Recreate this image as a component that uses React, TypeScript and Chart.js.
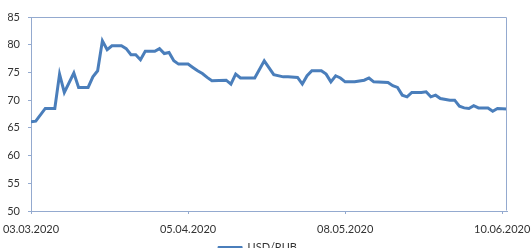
import React, { useEffect, useRef } from 'react';
import { Chart, registerables } from 'chart.js';

Chart.register(...registerables);

// Dates of the USD/RUB observations (DD.MM.YYYY)
const dates = [
  '03.03.2020', '04.03.2020', '06.03.2020', '08.03.2020', '09.03.2020', '10.03.2020',
  '12.03.2020', '13.03.2020', '15.03.2020', '16.03.2020', '17.03.2020', '18.03.2020',
  '19.03.2020', '20.03.2020', '22.03.2020', '23.03.2020', '24.03.2020', '25.03.2020',
  '26.03.2020', '27.03.2020', '29.03.2020', '30.03.2020', '31.03.2020', '01.04.2020',
  '02.04.2020', '03.04.2020', '05.04.2020', '06.04.2020', '07.04.2020', '08.04.2020',
  '09.04.2020', '10.04.2020', '13.04.2020', '14.04.2020', '15.04.2020', '16.04.2020',
  '19.04.2020', '21.04.2020', '23.04.2020', '25.04.2020', '26.04.2020', '28.04.2020',
  '29.04.2020', '30.04.2020', '01.05.2020', '03.05.2020', '04.05.2020', '05.05.2020',
  '06.05.2020', '07.05.2020', '08.05.2020', '10.05.2020', '12.05.2020', '13.05.2020',
  '14.05.2020', '17.05.2020', '18.05.2020', '19.05.2020', '20.05.2020', '21.05.2020',
  '22.05.2020', '24.05.2020', '25.05.2020', '26.05.2020', '27.05.2020', '28.05.2020',
  '30.05.2020', '31.05.2020', '01.06.2020', '02.06.2020', '03.06.2020', '04.06.2020',
  '05.06.2020', '07.06.2020', '08.06.2020', '09.06.2020', '11.06.2020',
];

// USD/RUB values
const usdRub = [
  66.1, 66.2, 68.5, 68.5, 74.7, 71.4,
  74.9, 72.3, 72.3, 74.2, 75.3, 80.7,
  79.1, 79.8, 79.8, 79.3, 78.2, 78.2,
  77.3, 78.8, 78.8, 79.3, 78.4, 78.6,
  77.1, 76.5, 76.5, 75.9, 75.3, 74.8,
  74.1, 73.5, 73.6, 72.9, 74.7, 74.0,
  74.0, 77.1, 74.6, 74.2, 74.2, 74.1,
  72.9, 74.4, 75.3, 75.3, 74.7, 73.3,
  74.4, 74.0, 73.3, 73.3, 73.6, 74.0,
  73.3, 73.2, 72.6, 72.3, 70.9, 70.6,
  71.4, 71.4, 71.5, 70.6, 70.9, 70.3,
  70.0, 70.0, 68.9, 68.6, 68.5, 69.0,
  68.6, 68.6, 68.0, 68.5, 68.4,
];

const seriesName = 'USD/RUB';
const xTickLabels = ['03.03.2020', '05.04.2020', '08.05.2020', '10.06.2020'];
const xAxisStart = '03.03.2020';
const xAxisEnd = '11.06.2020';
const yMin = 50;
const yMax = 85;
const yStep = 5;

const LINE_COLOR = '#4A7EBB';
const AXIS_COLOR = '#94AACF';
const TEXT_COLOR = '#333333';
const FONT = { family: 'Lato, "Liberation Sans", sans-serif', size: 11 };

function dayOf(s: string): number {
  const [d, m, y] = s.split('.').map(Number);
  const [d0, m0, y0] = xAxisStart.split('.').map(Number);
  return Math.round((Date.UTC(y, m - 1, d) - Date.UTC(y0, m0 - 1, d0)) / 86400000);
}

const plotFrame = {
  id: 'plotFrame',
  afterDraw(chart: any) {
    const { ctx, chartArea } = chart;
    const l = Math.round(chartArea.left) + 0.5;
    const r = Math.round(chartArea.right) - 0.5;
    const t = Math.round(chartArea.top) + 0.5;
    const b = Math.round(chartArea.bottom) - 0.5;
    ctx.save();
    ctx.strokeStyle = AXIS_COLOR;
    ctx.lineWidth = 1;
    ctx.beginPath();
    ctx.moveTo(l, t);
    ctx.lineTo(r, t);
    ctx.lineTo(r, b);
    ctx.stroke();
    ctx.restore();
  },
};

export default function App() {
  const ref = useRef<HTMLCanvasElement | null>(null);

  useEffect(() => {
    if (!ref.current) return;
    const points = dates.map((d, i) => ({ x: dayOf(d), y: usdRub[i] }));
    const tickDays = xTickLabels.map(dayOf);

    const chart = new Chart(ref.current, {
      type: 'line',
      data: {
        datasets: [
          {
            label: seriesName,
            data: points,
            borderColor: LINE_COLOR,
            backgroundColor: LINE_COLOR,
            borderWidth: 3,
            pointRadius: 0,
            tension: 0,
          },
        ],
      },
      options: {
        animation: false,
        responsive: false,
        devicePixelRatio: 1,
        layout: { padding: { top: 17, right: 24, left: 8, bottom: 0 } },
        plugins: {
          tooltip: { enabled: false },
          legend: {
            position: 'bottom',
            labels: {
              boxWidth: 24,
              boxHeight: 2,
              padding: 5,
              color: TEXT_COLOR,
              font: FONT,
              generateLabels: (c: any) =>
                Chart.defaults.plugins.legend.labels
                  .generateLabels(c)
                  .map((l: any) => ({ ...l, lineWidth: 1 })),
            },
          },
        },
        scales: {
          x: {
            type: 'linear',
            min: 0,
            max: dayOf(xAxisEnd),
            afterBuildTicks: (scale: any) => {
              scale.ticks = tickDays.map((v) => ({ value: v }));
            },
            afterFit: (scale: any) => {
              scale.height = 26;
              scale.paddingLeft = 0;
              scale.paddingRight = 0;
            },
            ticks: {
              autoSkip: false,
              maxRotation: 0,
              padding: 9,
              color: TEXT_COLOR,
              font: FONT,
              callback: (v: any) => {
                const idx = tickDays.indexOf(Number(v));
                return idx >= 0 ? xTickLabels[idx] : '';
              },
            },
            grid: {
              drawOnChartArea: false,
              drawTicks: true,
              tickLength: 3,
              color: AXIS_COLOR,
            },
            border: { display: true, color: AXIS_COLOR },
          },
          y: {
            min: yMin,
            max: yMax,
            afterFit: (scale: any) => {
              scale.width = 23;
            },
            ticks: {
              stepSize: yStep,
              padding: 8,
              color: TEXT_COLOR,
              font: FONT,
            },
            grid: {
              drawOnChartArea: false,
              drawTicks: true,
              tickLength: 3,
              color: AXIS_COLOR,
            },
            border: { display: true, color: AXIS_COLOR },
          },
        },
      },
      plugins: [plotFrame],
    });
    return () => chart.destroy();
  }, []);

  return (
    <div
      style={{
        position: 'fixed',
        left: 0,
        top: 0,
        width: 531,
        height: 248,
        overflow: 'hidden',
        background: '#ffffff',
      }}
    >
      <canvas ref={ref} width={531} height={263} style={{ display: 'block', width: 531, height: 263 }} />
    </div>
  );
}
